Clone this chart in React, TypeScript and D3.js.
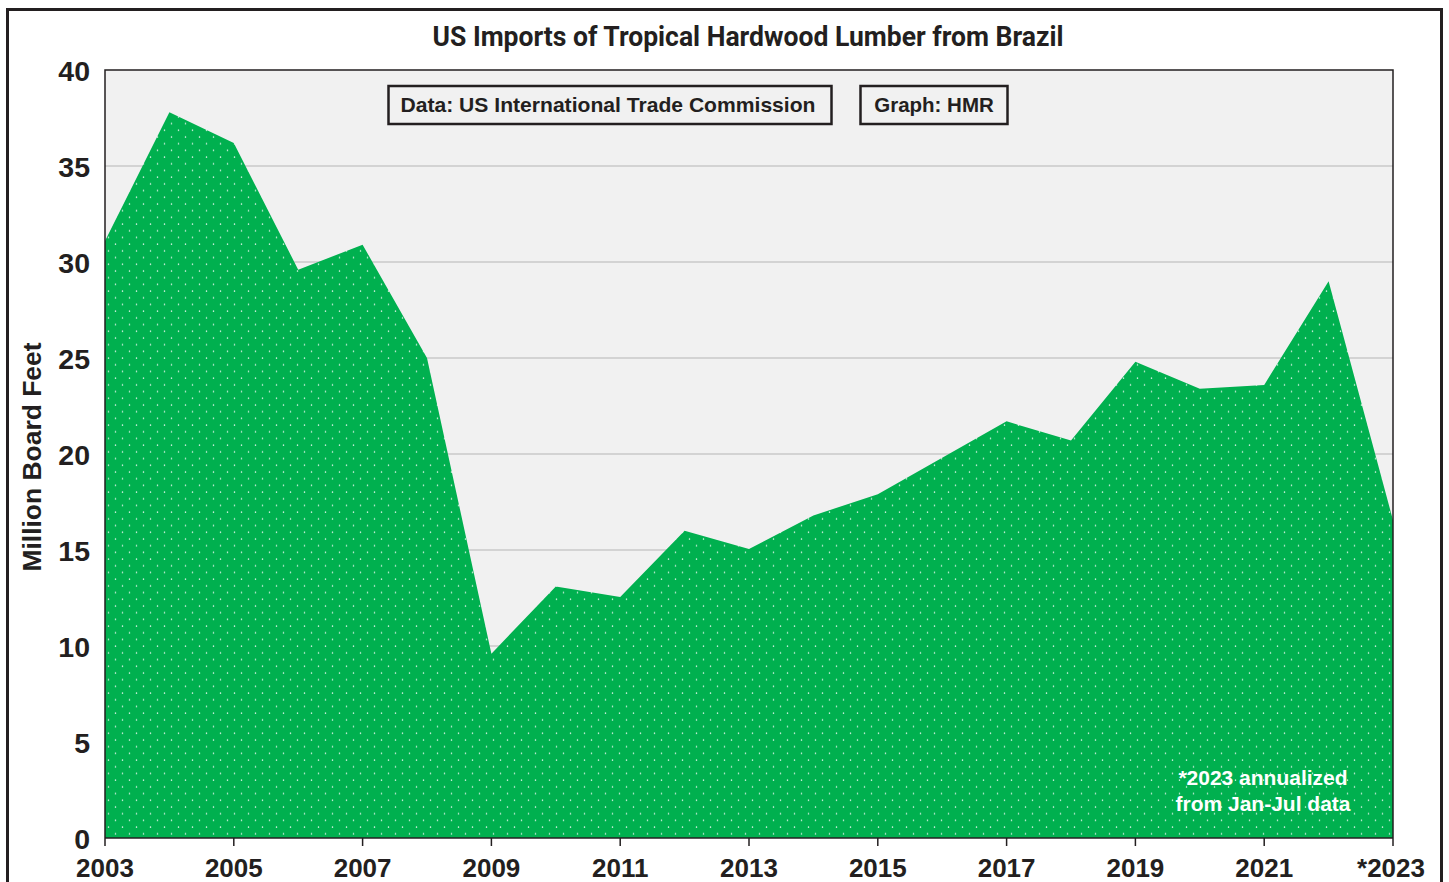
import React from "react";
import * as d3 from "d3";

const years = [2003, 2004, 2005, 2006, 2007, 2008, 2009, 2010, 2011, 2012, 2013, 2014, 2015, 2016, 2017, 2018, 2019, 2020, 2021, 2022, 2023];
const imports = [31.1, 37.8, 36.2, 29.6, 30.9, 25.0, 9.6, 13.1, 12.55, 16.0, 15.05, 16.8, 17.9, 19.8, 21.7, 20.7, 24.8, 23.4, 23.6, 29.0, 16.55];
const yTicks = [0, 5, 10, 15, 20, 25, 30, 35, 40];
const xTickYears = [2003, 2005, 2007, 2009, 2011, 2013, 2015, 2017, 2019, 2021, 2023];
const xTickLabels = ["2003", "2005", "2007", "2009", "2011", "2013", "2015", "2017", "2019", "2021", "*2023"];

const W = 1449, H = 882;
const L = 105, R = 1393, T = 70, B = 838;

export default function App() {
  const x = d3.scaleLinear().domain([2003, 2023]).range([L, R]);
  const y = d3.scaleLinear().domain([0, 40]).range([B, T]);
  const data = years.map((yr, i) => ({ yr, v: imports[i] }));
  const area = d3.area<{ yr: number; v: number }>().x(d => x(d.yr)).y0(y(0)).y1(d => y(d.v));
  const numFont = "'Liberation Sans', Arial, sans-serif";
  return (
    <svg width={W} height={H} style={{ position: "absolute", left: 0, top: 0, background: "#fff" }}>
      <defs>
        <pattern id="dots" patternUnits="userSpaceOnUse" width={14} height={13.4}>
          <rect width={14} height={13.4} fill="#00b04f" />
          <circle cx={3.5} cy={3} r={0.75} fill="#ffffff" opacity={0.85} />
          <circle cx={10.5} cy={9.7} r={0.75} fill="#ffffff" opacity={0.85} />
        </pattern>
      </defs>
      <rect x={7.5} y={9.5} width={1434} height={H + 20} fill="none" stroke="#231f20" strokeWidth={3} />
      <text x={(L + R) / 2 - 1} y={46} textAnchor="middle" fontFamily="Roboto, sans-serif" fontWeight={700} fontSize={28} fill="#231f20" textLength={631} lengthAdjust="spacingAndGlyphs">US Imports of Tropical Hardwood Lumber from Brazil</text>
      <rect x={L} y={T} width={R - L} height={B - T} fill="#f1f1f1" />
      {yTicks.filter(t => t > 0 && t < 40).map(t => (
        <line key={t} x1={L} x2={R} y1={y(t)} y2={y(t)} stroke="#c8c8c8" strokeWidth={1.5} />
      ))}
      <path d={area(data) || ""} fill="url(#dots)" />
      <path d={`M${L},${B}V${T}H${R}V${B}`} fill="none" stroke="#231f20" strokeWidth={1.5} />
      <line x1={L} x2={R} y1={B} y2={B} stroke="#231f20" strokeWidth={1.5} />
      {xTickYears.map(yr => (
        <line key={yr} x1={x(yr)} x2={x(yr)} y1={B} y2={B + 8} stroke="#231f20" strokeWidth={1.5} />
      ))}
      {yTicks.map(t => (
        <text key={t} x={90} y={y(t) + 11} textAnchor="end" fontFamily={numFont} fontWeight={700} fontSize={28.5} fill="#231f20">{t}</text>
      ))}
      {xTickYears.map((yr, i) => (
        <text key={yr} x={x(yr) + (i === xTickYears.length - 1 ? -2 : 0)} y={877} textAnchor="middle" fontFamily={numFont} fontWeight={700} fontSize={26} fill="#231f20">{xTickLabels[i]}</text>
      ))}
      <text transform={`translate(41,${457}) rotate(-90)`} textAnchor="middle" fontFamily={numFont} fontWeight={700} fontSize={26} fill="#231f20" textLength={229} lengthAdjust="spacingAndGlyphs">Million Board Feet</text>
      <rect x={388.5} y={86} width={443} height={38} fill="#f1f1f1" stroke="#231f20" strokeWidth={2.5} />
      <text x={608} y={112} textAnchor="middle" fontFamily={numFont} fontWeight={700} fontSize={20.5} fill="#231f20" textLength={415} lengthAdjust="spacingAndGlyphs">Data: US International Trade Commission</text>
      <rect x={860.5} y={86} width={147} height={38} fill="#f1f1f1" stroke="#231f20" strokeWidth={2.5} />
      <text x={934} y={112} textAnchor="middle" fontFamily={numFont} fontWeight={700} fontSize={20.5} fill="#231f20">Graph: HMR</text>
      <text x={1263} y={785} textAnchor="middle" fontFamily={numFont} fontWeight={700} fontSize={21} fill="#ffffff">*2023 annualized</text>
      <text x={1263} y={811} textAnchor="middle" fontFamily={numFont} fontWeight={700} fontSize={21} fill="#ffffff">from Jan-Jul data</text>
    </svg>
  );
}
